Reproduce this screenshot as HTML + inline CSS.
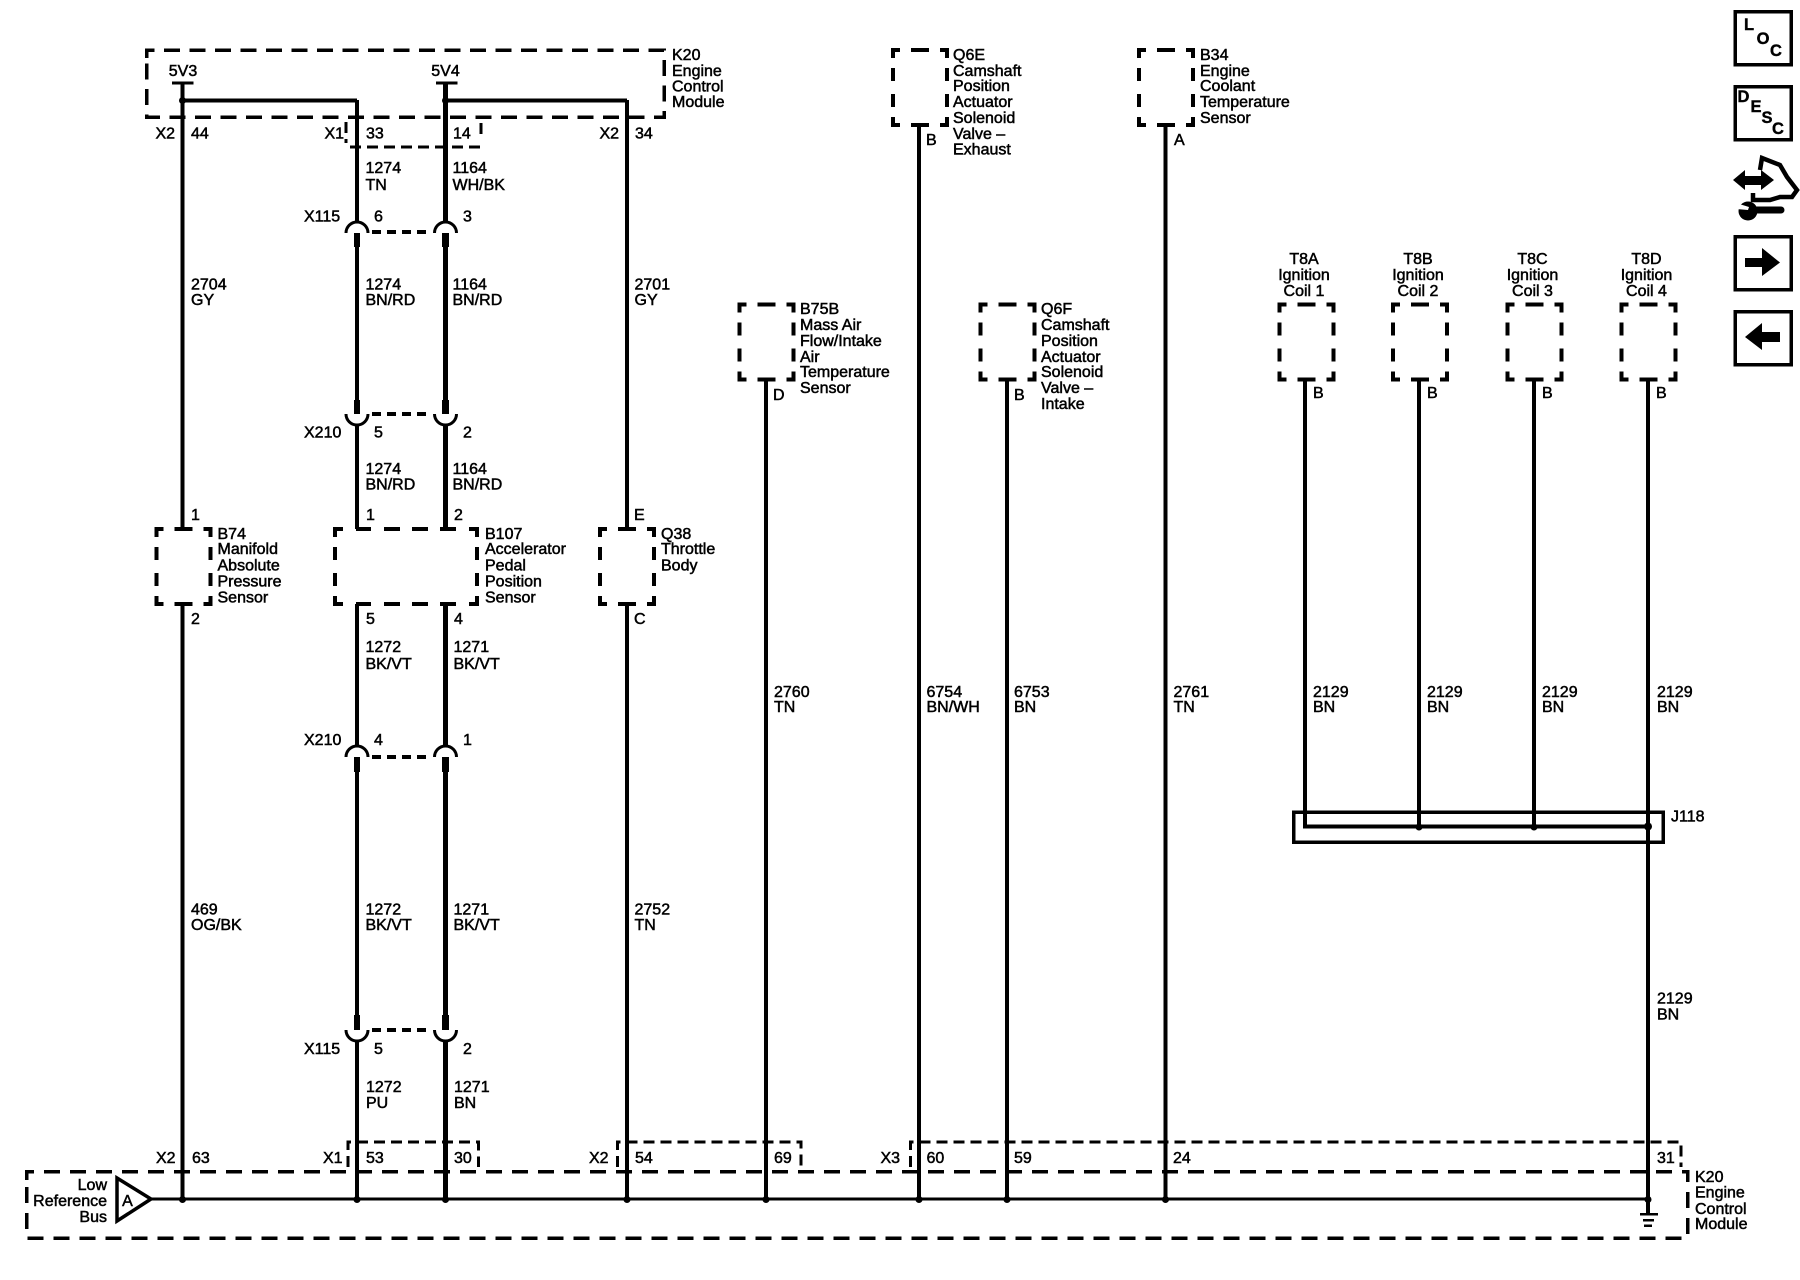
<!DOCTYPE html>
<html><head><meta charset="utf-8"><style>
html,body{margin:0;padding:0;background:#fff}
svg{display:block}
text{font-family:"Liberation Sans",sans-serif;font-size:16px;fill:#000;stroke:#000;stroke-width:.5}
.w,.l,.d{fill:none;stroke:#000}
.w{stroke-width:4;shape-rendering:crispEdges}
.s{fill:none;stroke:#000;stroke-width:7;shape-rendering:crispEdges}
.a{fill:none;stroke:#000;stroke-width:3}
.box{fill:none;stroke:#000;stroke-width:4;shape-rendering:crispEdges}
.dd{fill:none;stroke:#000;stroke-width:3.5;shape-rendering:crispEdges}
.cd{fill:none;stroke:#000;stroke-width:3;stroke-dasharray:11 6;shape-rendering:crispEdges}
.xd{fill:none;stroke:#000;stroke-width:4;stroke-dasharray:9 6;shape-rendering:crispEdges}
.ic{font-weight:bold;font-size:16.5px;stroke-width:.4}
</style></head><body>
<svg width="1800" height="1280" viewBox="0 0 1800 1280" xmlns="http://www.w3.org/2000/svg">
<rect width="1800" height="1280" fill="#fff"/>
<defs>
<path id="sb" class="box" d="M0 8V0H7M18 0H36M47 0H54V8M54 18V31M54 44V57M54 67V75H47M36 75H18M7 75H0V67M0 57V44M0 31V18"/>
</defs>

<!-- K20 top -->
<path class="dd" stroke-dasharray="16 9.5" d="M146.500 58V50H664V117H146.500V58"/>
<path class="w" d="M182.500 82V529M182.500 604V1199M627 100V529M627 604V1199"/>
<path class="w" d="M182 100.500H357M445 100.500H627"/>
<path class="w" style="stroke-width:3" d="M172 83H193.500M436 83H457.500"/>
<circle cx="182.500" cy="100.500" r="3.500"/><circle cx="445.500" cy="100.500" r="3.500"/>

<!-- inner wires -->
<path class="w" d="M357 100V222M357 233V400M357 425V529M357 604V746M357 757V1030M357 1042V1199"/>
<path class="w" style="stroke-width:5" d="M445.500 82V222M445.500 233V400M445.500 425V529M445.500 604V746M445.500 757V1030M445.500 1042V1199"/>
<!-- stubs -->
<path class="s" style="stroke-width:6" d="M357 233V247M357 400V414M357 757V772M357 1015V1030"/>
<path class="s" d="M445.500 233V247M445.500 400V414M445.500 757V772M445.500 1015V1030"/>
<!-- connector cups -->
<path class="a" d="M346 233A11 11 0 0 1 368 233M434.500 233A11 11 0 0 1 456.500 233"/>
<path class="a" d="M346 414A11 11 0 0 0 368 414M434.500 414A11 11 0 0 0 456.500 414"/>
<path class="a" d="M346 757A11 11 0 0 1 368 757M434.500 757A11 11 0 0 1 456.500 757"/>
<path class="a" d="M346 1030A11 11 0 0 0 368 1030M434.500 1030A11 11 0 0 0 456.500 1030"/>
<path class="xd" d="M372 232H432M372 414H432M372 757H432M372 1030H432"/>

<!-- X1 connector top -->
<path class="cd" d="M346 122V143M350 147H481M481 134V122"/>
<!-- X1 bottom -->
<path class="cd" d="M348 1167V1142H478.500V1167"/>
<!-- X2 bottom 54/69 -->
<path class="cd" d="M617.500 1167V1142H801V1167"/>
<!-- X3 bottom -->
<path class="cd" d="M910.500 1167V1142H1681V1167"/>

<!-- component boxes -->
<use href="#sb" x="156.500" y="529"/>
<use href="#sb" x="600" y="529"/>
<path class="box" d="M335 537V529H343M356 529H371M384 529H400M412 529H428M440 529H456M469 529H477V537M477 547V560M477 573V586M477 596V604H469M456 604H440M428 604H412M400 604H384M371 604H356M343 604H335V596M335 586V573M335 560V547"/>
<use href="#sb" x="739.500" y="304.500"/>
<use href="#sb" x="893" y="50"/>
<use href="#sb" x="980.500" y="304.500"/>
<use href="#sb" x="1139" y="50"/>
<use href="#sb" x="1279.500" y="304.500"/>
<use href="#sb" x="1393" y="304.500"/>
<use href="#sb" x="1507.500" y="304.500"/>
<use href="#sb" x="1621.500" y="304.500"/>

<!-- right wires -->
<path class="w" d="M766 380V1199M919 125V1199M1007 380V1199M1165.500 125V1199M1305 380V827M1419 380V827M1534 380V827M1648 380V1214"/>
<path class="w" d="M1303 826.500H1648"/>
<rect x="1293.500" y="812" width="369.500" height="30" fill="none" stroke="#000" stroke-width="3.500" shape-rendering="crispEdges"/>
<circle cx="1419" cy="827" r="3.500"/><circle cx="1534" cy="827" r="3.500"/><circle cx="1648" cy="826.500" r="4"/>

<!-- K20 bottom -->
<path class="dd" stroke-dasharray="16 10" d="M26.500 1180V1171.500H1687.500V1238H26.500V1180"/>
<path d="M150 1199H1648" stroke="#000" stroke-width="3" shape-rendering="crispEdges"/>
<path d="M117 1178L151 1199L117 1221Z" fill="#fff" stroke="#000" stroke-width="3.500"/>
<path d="M150 1199H160" stroke="#000" stroke-width="3"/>
<g>
<circle cx="182.500" cy="1199.500" r="3.500"/><circle cx="357" cy="1199.500" r="3.500"/><circle cx="445.500" cy="1199.500" r="3.500"/><circle cx="627" cy="1199.500" r="3.500"/><circle cx="766" cy="1199.500" r="3.500"/><circle cx="919" cy="1199.500" r="3.500"/><circle cx="1007" cy="1199.500" r="3.500"/><circle cx="1165.500" cy="1199.500" r="3.500"/><circle cx="1648" cy="1199.500" r="3.500"/>
</g>
<path d="M1640 1214H1658M1643 1220H1654M1644 1225.500H1652" stroke="#000" stroke-width="2.500" shape-rendering="crispEdges"/>

<!-- labels -->
<text><tspan x="672" y="60">K20</tspan><tspan x="672" y="76">Engine</tspan><tspan x="672" y="91.500">Control</tspan><tspan x="672" y="107">Module</tspan></text>
<text x="183" y="76" text-anchor="middle">5V3</text>
<text x="445.500" y="76" text-anchor="middle">5V4</text>
<text x="155.500" y="138.500">X2</text><text x="191" y="138.500">44</text>
<text x="324.500" y="138.500">X1</text><text x="366" y="138.500">33</text><text x="453" y="138.500">14</text>
<text x="599.500" y="138.500">X2</text><text x="635" y="138.500">34</text>
<text x="365.500" y="173">1274</text><text x="365.500" y="190">TN</text>
<text x="452.500" y="173">1164</text><text x="452.500" y="190">WH/BK</text>
<text x="304" y="221.500">X115</text><text x="374" y="221.500">6</text><text x="463" y="221.500">3</text>
<text x="191" y="289.500">2704</text><text x="191" y="305">GY</text>
<text x="365.500" y="289.500">1274</text><text x="365.500" y="305">BN/RD</text>
<text x="452.500" y="289.500">1164</text><text x="452.500" y="305">BN/RD</text>
<text x="634.500" y="289.500">2701</text><text x="634.500" y="305">GY</text>
<text x="304" y="437.500">X210</text><text x="374" y="437.500">5</text><text x="463" y="437.500">2</text>
<text x="365.500" y="474">1274</text><text x="365.500" y="489.500">BN/RD</text>
<text x="452.500" y="474">1164</text><text x="452.500" y="489.500">BN/RD</text>
<text x="191" y="520">1</text><text x="366" y="520">1</text><text x="454" y="520">2</text><text x="634" y="520">E</text>
<text><tspan x="217.500" y="539">B74</tspan><tspan x="217.500" y="554">Manifold</tspan><tspan x="217.500" y="570.500">Absolute</tspan><tspan x="217.500" y="586.500">Pressure</tspan><tspan x="217.500" y="602.500">Sensor</tspan></text>
<text><tspan x="485" y="539">B107</tspan><tspan x="485" y="554">Accelerator</tspan><tspan x="485" y="570.500">Pedal</tspan><tspan x="485" y="586.500">Position</tspan><tspan x="485" y="602.500">Sensor</tspan></text>
<text><tspan x="661" y="539">Q38</tspan><tspan x="661" y="554">Throttle</tspan><tspan x="661" y="570.500">Body</tspan></text>
<text x="191" y="624">2</text><text x="366" y="624">5</text><text x="454" y="624">4</text><text x="634" y="624">C</text>
<text x="365.500" y="652">1272</text><text x="365.500" y="669">BK/VT</text>
<text x="453.500" y="652">1271</text><text x="453.500" y="669">BK/VT</text>
<text x="304" y="745">X210</text><text x="374" y="745">4</text><text x="463" y="745">1</text>
<text x="191" y="914.500">469</text><text x="191" y="930">OG/BK</text>
<text x="365.500" y="914.500">1272</text><text x="365.500" y="930">BK/VT</text>
<text x="453.500" y="914.500">1271</text><text x="453.500" y="930">BK/VT</text>
<text x="634.500" y="914.500">2752</text><text x="634.500" y="930">TN</text>
<text x="304" y="1054">X115</text><text x="374" y="1054">5</text><text x="463" y="1054">2</text>
<text x="366" y="1092">1272</text><text x="366" y="1108">PU</text>
<text x="454" y="1092">1271</text><text x="454" y="1108">BN</text>
<text x="156" y="1163">X2</text><text x="192" y="1163">63</text>
<text x="323" y="1163">X1</text><text x="366" y="1163">53</text><text x="454" y="1163">30</text>
<text x="589" y="1163">X2</text><text x="635" y="1163">54</text><text x="774" y="1163">69</text>
<text x="880.500" y="1163">X3</text><text x="926.500" y="1163">60</text><text x="1014" y="1163">59</text><text x="1173" y="1163">24</text><text x="1657" y="1163">31</text>
<text text-anchor="end"><tspan x="107" y="1190">Low</tspan><tspan x="107" y="1206">Reference</tspan><tspan x="107" y="1222">Bus</tspan></text>
<text x="127.500" y="1206" text-anchor="middle">A</text>
<text><tspan x="1695" y="1182">K20</tspan><tspan x="1695" y="1197.500">Engine</tspan><tspan x="1695" y="1214">Control</tspan><tspan x="1695" y="1229">Module</tspan></text>

<text><tspan x="953" y="60">Q6E</tspan><tspan x="953" y="76">Camshaft</tspan><tspan x="953" y="91">Position</tspan><tspan x="953" y="107">Actuator</tspan><tspan x="953" y="123">Solenoid</tspan><tspan x="953" y="139">Valve –</tspan><tspan x="953" y="154.500">Exhaust</tspan></text>
<text x="926" y="145">B</text>
<text><tspan x="1200" y="60">B34</tspan><tspan x="1200" y="76">Engine</tspan><tspan x="1200" y="91">Coolant</tspan><tspan x="1200" y="107">Temperature</tspan><tspan x="1200" y="123">Sensor</tspan></text>
<text x="1174" y="145">A</text>
<text><tspan x="800" y="314">B75B</tspan><tspan x="800" y="330">Mass Air</tspan><tspan x="800" y="346">Flow/Intake</tspan><tspan x="800" y="362">Air</tspan><tspan x="800" y="377">Temperature</tspan><tspan x="800" y="393">Sensor</tspan></text>
<text x="773" y="400">D</text>
<text><tspan x="1041" y="314">Q6F</tspan><tspan x="1041" y="330">Camshaft</tspan><tspan x="1041" y="346">Position</tspan><tspan x="1041" y="362">Actuator</tspan><tspan x="1041" y="377">Solenoid</tspan><tspan x="1041" y="393">Valve –</tspan><tspan x="1041" y="409">Intake</tspan></text>
<text x="1014" y="400">B</text>
<text text-anchor="middle"><tspan x="1304" y="264">T8A</tspan><tspan x="1304" y="280">Ignition</tspan><tspan x="1304" y="296">Coil 1</tspan></text>
<text text-anchor="middle"><tspan x="1418" y="264">T8B</tspan><tspan x="1418" y="280">Ignition</tspan><tspan x="1418" y="296">Coil 2</tspan></text>
<text text-anchor="middle"><tspan x="1532.500" y="264">T8C</tspan><tspan x="1532.500" y="280">Ignition</tspan><tspan x="1532.500" y="296">Coil 3</tspan></text>
<text text-anchor="middle"><tspan x="1646.500" y="264">T8D</tspan><tspan x="1646.500" y="280">Ignition</tspan><tspan x="1646.500" y="296">Coil 4</tspan></text>
<text x="1313" y="398">B</text><text x="1427" y="398">B</text><text x="1542" y="398">B</text><text x="1656" y="398">B</text>
<text x="774" y="697">2760</text><text x="774" y="712">TN</text>
<text x="926.500" y="697">6754</text><text x="926.500" y="712">BN/WH</text>
<text x="1014" y="697">6753</text><text x="1014" y="712">BN</text>
<text x="1173.500" y="697">2761</text><text x="1173.500" y="712">TN</text>
<text x="1313" y="697">2129</text><text x="1313" y="712">BN</text>
<text x="1427" y="697">2129</text><text x="1427" y="712">BN</text>
<text x="1542" y="697">2129</text><text x="1542" y="712">BN</text>
<text x="1657" y="697">2129</text><text x="1657" y="712">BN</text>
<text x="1671" y="821.500">J118</text>
<text x="1657" y="1003.500">2129</text><text x="1657" y="1019.500">BN</text>

<!-- side icons -->
<g fill="none" stroke="#000" stroke-width="3.500" shape-rendering="crispEdges">
<rect x="1735" y="11.500" width="56" height="53"/>
<rect x="1735" y="86.500" width="56" height="53"/>
<rect x="1735" y="236.500" width="56" height="53"/>
<rect x="1735" y="311.500" width="56" height="53"/>
</g>
<text class="ic" x="1749" y="30" text-anchor="middle">L</text>
<text class="ic" x="1763" y="44" text-anchor="middle">O</text>
<text class="ic" x="1776" y="56" text-anchor="middle">C</text>
<text class="ic" x="1743.500" y="102" text-anchor="middle">D</text>
<text class="ic" x="1756" y="112" text-anchor="middle">E</text>
<text class="ic" x="1767" y="123" text-anchor="middle">S</text>
<text class="ic" x="1778" y="134" text-anchor="middle">C</text>
<path d="M1745 258H1762V248L1780 262.500L1762 276V267H1745Z"/>
<path d="M1745 337L1762 323V332H1780V342H1762V350Z"/>
<path d="M1733 180L1745 170V176H1761V170L1774 180L1761 190V185H1745V190Z"/>
<path d="M1760 170L1762 158L1780 165L1787 177L1797 190L1792 197H1780L1770 200H1753V193" fill="none" stroke="#000" stroke-width="4.500"/>
<circle cx="1748" cy="211" r="9.500"/>
<path d="M1748 206.500H1781A3.500 3.500 0 0 1 1781 213.500H1748Z"/>
<path d="M1736 203L1749 207L1748 210L1736 209Z" fill="#fff"/>
</svg>
</body></html>
